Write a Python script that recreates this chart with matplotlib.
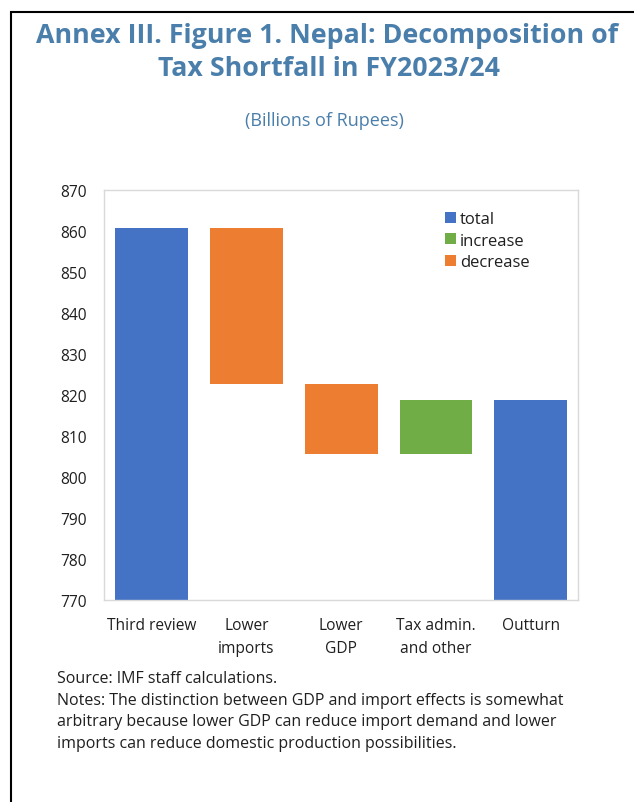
import matplotlib
matplotlib.use("Agg")
import matplotlib.pyplot as plt
from matplotlib.patches import Patch
from matplotlib.lines import Line2D
import numpy as np

# ---- data ----
categories = ["Third review", "Lower\nimports", "Lower\nGDP", "Tax admin.\nand other", "Outturn"]
start_total = 860.6
changes = [-37.9, -17.1, 13.1]
end_total = 818.7
kinds = ["total", "decrease", "decrease", "increase", "total"]
y_ticks = [770, 780, 790, 800, 810, 820, 830, 840, 850, 860, 870]

title_lines = ["Annex III. Figure 1. Nepal: Decomposition of", "Tax Shortfall in FY2023/24"]
subtitle = "(Billions of Rupees)"
notes = [
    "Source: IMF staff calculations.",
    "Notes: The distinction between GDP and import effects is somewhat",
    "arbitrary because lower GDP can reduce import demand and lower",
    "imports can reduce domestic production possibilities.",
]

colors = {"total": "#4472C4", "increase": "#70AD47", "decrease": "#ED7D31"}
FONT = ["Open Sans", "DejaVu Sans"]
plt.rcParams["font.family"] = FONT
TXT = "#1f1f1f"
TITLE_C = "#4A7EAB"

# waterfall geometry
levels = [start_total]
for c in changes:
    levels.append(levels[-1] + c)
bottoms, heights = [], []
bottoms.append(0); heights.append(start_total)
for i, c in enumerate(changes):
    lo = min(levels[i], levels[i + 1])
    bottoms.append(lo); heights.append(abs(c))
bottoms.append(0); heights.append(end_total)

W, H = 634, 803
fig = plt.figure(figsize=(W / 100, H / 100), dpi=100)

ax = fig.add_axes([104 / W, 1 - 600.7 / H, 474.3 / W, 410 / H])
x = np.arange(len(categories))
ax.bar(x, heights, bottom=bottoms, width=0.767,
       color=[colors[k] for k in kinds], edgecolor="none")
ax.set_xlim(-0.5, len(categories) - 0.5)
ax.set_ylim(770, 870)
ax.set_yticks(y_ticks)
ax.set_xticks(x)
ax.set_xticklabels(categories, fontsize=11.2, color=TXT, linespacing=1.55)
ax.tick_params(axis="y", length=0, pad=12.5, labelsize=11.2, labelcolor=TXT)
ax.tick_params(axis="x", length=0, pad=12.5)
for s in ax.spines.values():
    s.set_color("#D9D9D9")
    s.set_linewidth(1.0)

handles = [Patch(facecolor=colors[k], edgecolor="none") for k in ["total", "increase", "decrease"]]
leg = ax.legend(handles, ["total", "increase", "decrease"], loc="upper left",
                bbox_to_anchor=(445 / W, 1 - 212 / H), bbox_transform=fig.transFigure,
                frameon=False, fontsize=12, handlelength=0.63, handleheight=0.63,
                handletextpad=0.25, labelspacing=0.34, borderpad=0, borderaxespad=0)
for t in leg.get_texts():
    t.set_color(TXT)

# titles
fig.text(327 / W, 1 - 43 / H, title_lines[0], ha="center", va="baseline",
         fontsize=19.3, fontweight="bold", color=TITLE_C)
fig.text(329 / W, 1 - 75.5 / H, title_lines[1], ha="center", va="baseline",
         fontsize=19.3, fontweight="bold", color=TITLE_C)
fig.text(324 / W, 1 - 126 / H, subtitle, ha="center", va="baseline",
         fontsize=13, color=TITLE_C)

# notes
for i, line in enumerate(notes):
    fig.text(57 / W, 1 - (683 + i * 21.7) / H, line, ha="left", va="baseline",
             fontsize=11.5, color=TXT)

# frame lines (left and top)
fig.add_artist(Line2D([11 / W, 11 / W, 1.0], [0.0, 1 - 13 / H, 1 - 13 / H],
                      transform=fig.transFigure, color="black", linewidth=1.5,
                      solid_joinstyle="miter"))

fig.savefig("out.png", dpi=100)
